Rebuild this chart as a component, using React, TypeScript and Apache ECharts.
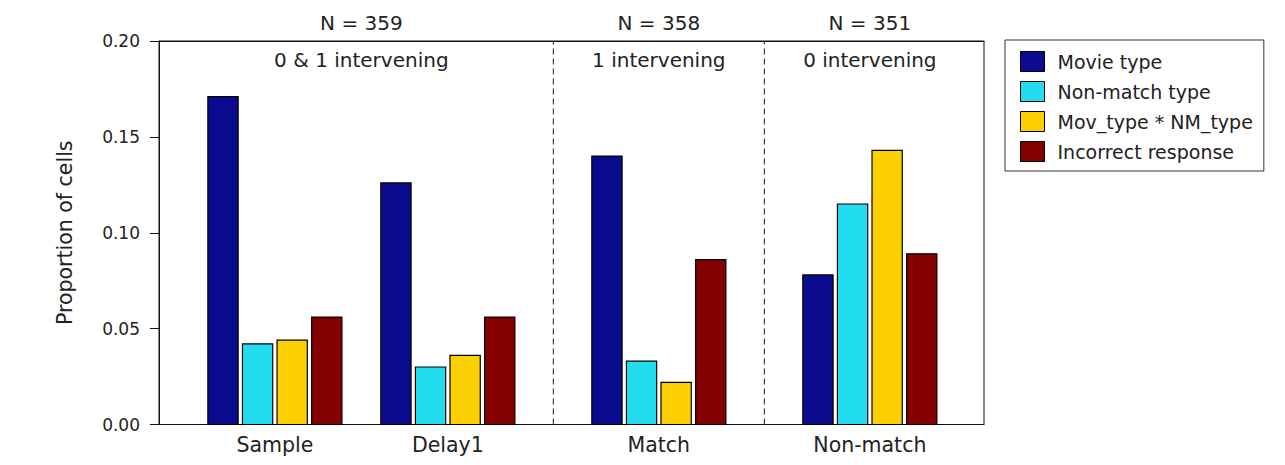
import React, { useEffect, useRef } from "react";
import * as echarts from "echarts";

// Task epochs along the x axis
const categories = ["Sample", "Delay1", "Match", "Non-match"];

// Series (legend order)
const seriesNames = ["Movie type", "Non-match type", "Mov_type * NM_type", "Incorrect response"];

// Proportion of cells per epoch, one array per series
const movieType = [0.171, 0.126, 0.14, 0.078];
const nonMatchType = [0.042, 0.03, 0.033, 0.115];
const movTypeNmType = [0.044, 0.036, 0.022, 0.143];
const incorrectResponse = [0.056, 0.056, 0.086, 0.089];

// Headers above the plot and condition captions inside it
const sampleSizes = ["N = 359", "N = 358", "N = 351"];
const conditions = ["0 & 1 intervening", "1 intervening", "0 intervening"];

// Y axis range and tick step
const yMin = 0;
const yMax = 0.2;
const yStep = 0.05;

// ---- layout ----
// x position of each epoch on the (hidden) numeric x axis
const groupX = [1, 2, 3.22, 4.44];
// header centres: first header spans Sample + Delay1
const headerX = [(groupX[0] + groupX[1]) / 2, groupX[2], groupX[3]];
// dashed dividers sit halfway between neighbouring sections
const dividerX = [(groupX[1] + groupX[2]) / 2, (groupX[2] + groupX[3]) / 2];
const xMin = 0.33;
const xMax = 5.1;
const barOffsets = [-0.3, -0.1, 0.1, 0.3];
const barHalfWidth = 0.0875;

const colors = ["#0b0b8f", "#22dcf0", "#fcd000", "#850000"];
const FONT = "DejaVu Sans";
const TEXT = "#222";

const allValues = [movieType, nonMatchType, movTypeNmType, incorrectResponse];

function labelAt(positions: number[], names: string[]) {
  return (v: number) => {
    const i = positions.findIndex((p) => Math.abs(p - v) < 1e-6);
    return i >= 0 ? names[i] : "";
  };
}

export default function App() {
  const ref = useRef<HTMLDivElement>(null);

  useEffect(() => {
    if (!ref.current) return;
    const chart = echarts.init(ref.current, undefined, { renderer: "svg" });

    const barSeries = seriesNames.map((name, s) => ({
      name,
      type: "custom",
      xAxisIndex: 0,
      yAxisIndex: 0,
      itemStyle: { color: colors[s], borderColor: "#000", borderWidth: 1 },
      encode: { x: 0, y: 1 },
      data: allValues[s].map((v, i) => [groupX[i] + barOffsets[s], v]),
      renderItem: (_params: any, api: any) => {
        const x = api.value(0);
        const y = api.value(1);
        const p0 = api.coord([x - barHalfWidth, y]);
        const p1 = api.coord([x + barHalfWidth, 0]);
        return {
          type: "rect",
          shape: { x: p0[0], y: p0[1], width: p1[0] - p0[0], height: p1[1] - p0[1] },
          style: { fill: colors[s], stroke: "#000", lineWidth: 1.2 },
        };
      },
    }));

    const dividerSeries = dividerX.map((d, k) => ({
      name: "divider" + k,
      type: "line",
      xAxisIndex: 0,
      yAxisIndex: 0,
      symbol: "none",
      silent: true,
      lineStyle: { color: "#1a1a1a", width: 1, type: [6, 4] },
      data: [
        [d, yMin],
        [d, yMax],
      ],
    }));

    chart.setOption({
      animation: false,
      backgroundColor: "#fff",
      grid: {
        left: 159,
        right: 301,
        top: 41,
        bottom: 40.5,
        show: true,
        borderColor: "#111",
        borderWidth: 1,
      },
      legend: {
        data: seriesNames,
        orient: "vertical",
        left: 1005,
        top: 40,
        icon: "rect",
        itemWidth: 24,
        itemHeight: 20,
        itemGap: 9,
        padding: [11, 11, 9, 15],
        borderColor: "#333",
        borderWidth: 1,
        selectedMode: false,
        itemStyle: { borderColor: "#000", borderWidth: 1 },
        textStyle: { fontFamily: FONT, fontSize: 19, color: TEXT, padding: [0, 0, 0, 8] },
      },
      xAxis: [
        {
          type: "value",
          position: "bottom",
          min: xMin,
          max: xMax,
          splitLine: { show: false },
          axisTick: { show: false },
          axisLine: { show: true, lineStyle: { color: "#111", width: 1 } },
          axisLabel: {
            customValues: groupX,
            formatter: labelAt(groupX, categories),
            margin: 10,
            fontFamily: FONT,
            fontSize: 20.5,
            color: TEXT,
          },
        },
        {
          type: "value",
          position: "top",
          min: xMin,
          max: xMax,
          splitLine: { show: false },
          axisTick: { show: false },
          axisLine: { show: true, lineStyle: { color: "#111", width: 1 } },
          axisLabel: {
            customValues: headerX,
            formatter: labelAt(headerX, sampleSizes),
            margin: 8,
            fontFamily: FONT,
            fontSize: 20,
            color: TEXT,
          },
        },
        {
          type: "value",
          position: "top",
          min: xMin,
          max: xMax,
          splitLine: { show: false },
          axisTick: { show: false },
          axisLine: { show: false },
          axisLabel: {
            inside: true,
            customValues: headerX,
            formatter: labelAt(headerX, conditions),
            margin: 9,
            fontFamily: FONT,
            fontSize: 20,
            color: TEXT,
          },
        },
      ],
      yAxis: {
        type: "value",
        min: yMin,
        max: yMax,
        interval: yStep,
        name: "Proportion of cells",
        nameLocation: "middle",
        nameRotate: 90,
        nameGap: 84,
        nameTextStyle: { fontFamily: FONT, fontSize: 20.5, color: TEXT },
        splitLine: { show: false },
        axisLine: { show: true, lineStyle: { color: "#111", width: 1 } },
        axisTick: { show: true, inside: false, length: 9, lineStyle: { color: "#111" } },
        axisLabel: {
          margin: 19,
          fontFamily: FONT,
          fontSize: 17,
          color: TEXT,
          formatter: (v: number) => v.toFixed(2),
        },
      },
      series: [...dividerSeries, ...barSeries],
    });

    return () => chart.dispose();
  }, []);

  return (
    <div
      ref={ref}
      style={{ position: "fixed", left: 0, top: 0, width: 1285, height: 465, background: "#fff" }}
    />
  );
}
